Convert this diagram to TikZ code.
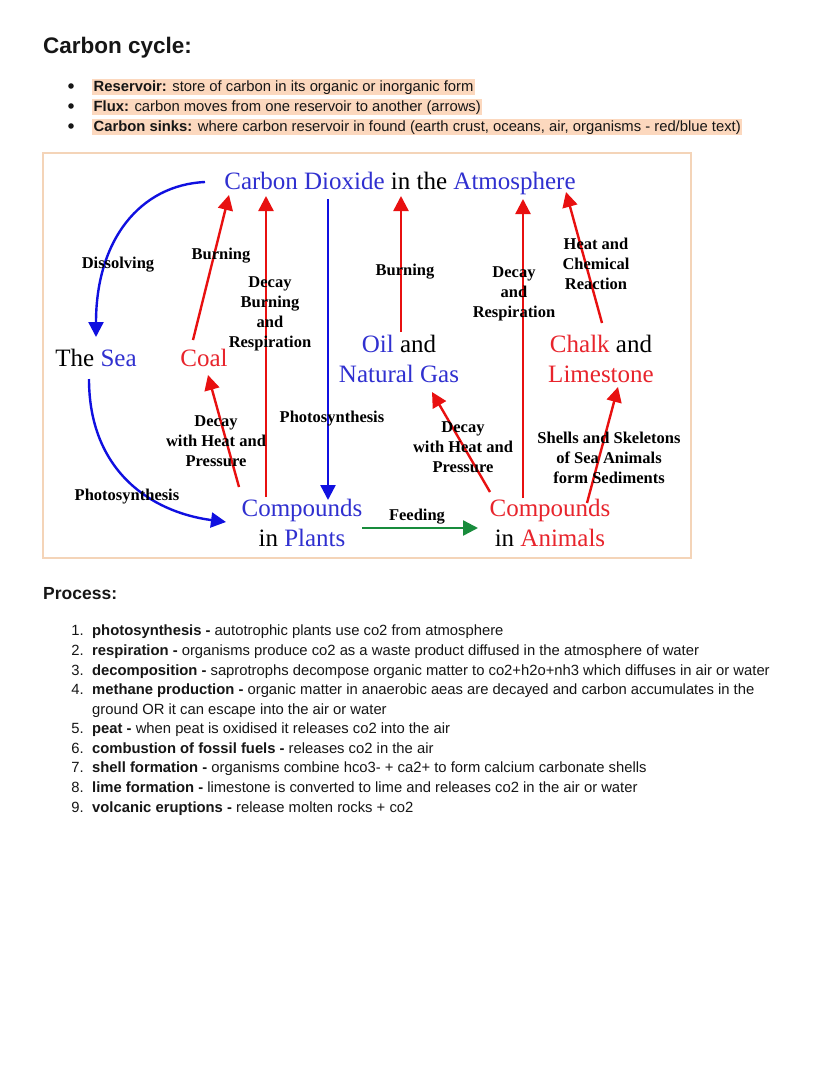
\documentclass[tikz,border=0pt]{standalone}
\usepackage{fontspec}
\setmainfont{Liberation Serif}
\newfontfamily\docsans{Liberation Sans}
\usetikzlibrary{arrows.meta,calc}
\definecolor{cycBlue}{RGB}{48,48,208}
\definecolor{cycRed}{RGB}{232,36,44}
\definecolor{arrBlue}{RGB}{16,16,224}
\definecolor{arrRed}{RGB}{232,16,16}
\definecolor{arrGreen}{RGB}{24,140,60}
\definecolor{hlPeach}{RGB}{252,216,190}
\definecolor{frameTan}{RGB}{244,212,184}
\definecolor{docInk}{RGB}{22,22,22}
\tikzset{
  doctitle/.style={font=\docsans\bfseries\fontsize{22.5}{27}\selectfont,text=docInk,inner sep=0pt,anchor=base west},
  dochead/.style={font=\docsans\bfseries\fontsize{17.5}{21}\selectfont,text=docInk,inner sep=0pt,anchor=base west},
  docbody/.style={font=\docsans\fontsize{14.8}{17.5}\selectfont,text=docInk,inner sep=0pt,anchor=base west},
  docnum/.style={font=\docsans\fontsize{14.8}{17.5}\selectfont,text=docInk,inner sep=0pt,anchor=base east},
  docdot/.style={circle,fill=docInk,inner sep=0pt,minimum size=5.6pt},
  dochl/.style={fill=hlPeach,inner xsep=1.5pt,inner ysep=0.5pt,text height=11.5pt,text depth=3.5pt},
  cycpool/.style={font=\fontsize{25}{30}\selectfont,align=center,inner sep=0pt,anchor=base},
  cyclabel/.style={font=\bfseries\fontsize{16.5}{20}\selectfont,align=center,inner sep=0pt,text=black},
  flowred/.style={-{Triangle[length=15pt,width=15pt]},draw=arrRed,line width=2.4pt},
  flowblue/.style={-{Triangle[length=15pt,width=15pt]},draw=arrBlue,line width=2.4pt},
  flowgreen/.style={-{Triangle[length=15pt,width=15pt]},draw=arrGreen,line width=2.4pt},
}
\newcommand{\bl}[1]{\textcolor{cycBlue}{#1}}
\newcommand{\rd}[1]{\textcolor{cycRed}{#1}}

\begin{document}
\begin{tikzpicture}[x=1pt,y=-1pt]
\useasboundingbox[fill=white] (0,0) rectangle (828,1071);

% Heading and definitions
\node[doctitle] (title) at (43,53) {Carbon cycle:};
\node[docdot] (dotA) at (71,86) {};
\node[docbody,dochl] (defA) at (92,91) {\textbf{Reservoir:} store of carbon in its organic or inorganic form};
\node[docdot] (dotB) at (71,106) {};
\node[docbody,dochl] (defB) at (92,111) {\textbf{Flux:} carbon moves from one reservoir to another (arrows)};
\node[docdot] (dotC) at (71,126) {};
\node[docbody,dochl] (defC) at (92,131) {\textbf{Carbon sinks:} where carbon reservoir in found (earth crust, oceans, air, organisms - red/blue text)};

% Diagram frame
\draw[draw=frameTan,line width=2.5pt,fill=white] (43,153) rectangle (691,558);

% Reservoirs (base = last line)
\node[cycpool] (co2) at (400,189) {\bl{Carbon Dioxide} in the \bl{Atmosphere}};
\node[cycpool] (sea) at (96,366) {The \bl{Sea}};
\node[cycpool] (coal) at (204,366) {\rd{Coal}};
\node[cycpool] (oil) at (399,382) {\bl{Oil} and\\\bl{Natural Gas}};
\node[cycpool] (chalk) at (601,382) {\rd{Chalk} and\\\rd{Limestone}};
\node[cycpool] (plants) at (302,546) {\bl{Compounds}\\in \bl{Plants}};
\node[cycpool] (animals) at (550,546) {\rd{Compounds}\\in \rd{Animals}};

% Fluxes
\draw[flowblue] ($(co2.base)+(-195,-7)$) .. controls (140,185) and (96,240) .. ($(sea.base)+(0,-29)$);
\draw[flowred] ($(coal.base)+(-11,-26)$) -- ($(co2.base)+(-171,6)$);
\draw[flowred] ($(plants.base)+(-36,-49)$) -- ($(co2.base)+(-134,7)$);
\draw[flowblue] ($(co2.base)+(-72,10)$) -- ($(plants.base)+(26,-46)$);
\draw[flowred] ($(oil.base)+(2,-50)$) -- ($(co2.base)+(1,7)$);
\draw[flowred] ($(animals.base)+(-27,-48)$) -- ($(co2.base)+(123,10)$);
\draw[flowred] ($(chalk.base)+(1,-59)$) -- ($(co2.base)+(166,3)$);
\draw[flowred] ($(plants.base)+(-63,-59)$) -- ($(coal.base)+(4,9)$);
\draw[flowblue] ($(sea.base)+(-7,13)$) .. controls (89,470) and (150,512) .. ($(plants.base)+(-76,-24)$);
\draw[flowgreen] ($(plants.base)+(60,-18)$) -- ($(animals.base)+(-72,-18)$);
\draw[flowred] ($(animals.base)+(-60,-54)$) -- ($(oil.base)+(33,10)$);
\draw[flowred] ($(animals.base)+(37,-43)$) -- ($(chalk.base)+(17,5)$);

% Flux labels
\node[cyclabel] (lDissolve) at (118,265) {Dissolving};
\node[cyclabel] (lBurnCoal) at (221,256) {Burning};
\node[cyclabel] (lDecayPlants) at (270,314) {Decay\\Burning\\and\\Respiration};
\node[cyclabel] (lBurnOil) at (405,272) {Burning};
\node[cyclabel] (lDecayAnimals) at (514,294) {Decay\\and\\Respiration};
\node[cyclabel] (lHeat) at (596,264) {Heat and\\Chemical\\Reaction};
\node[cyclabel] (lCoalForm) at (216,441) {Decay\\with Heat and\\Pressure};
\node[cyclabel] (lPhotoAir) at (332,419) {Photosynthesis};
\node[cyclabel] (lPhotoSea) at (127,497) {Photosynthesis};
\node[cyclabel] (lFeeding) at (417,517) {Feeding};
\node[cyclabel] (lOilForm) at (463,447) {Decay\\with Heat and\\Pressure};
\node[cyclabel] (lShells) at (609,458) {Shells and Skeletons\\of Sea Animals\\form Sediments};

% Process list
\node[dochead] (procHead) at (43,599) {Process:};
\node[docnum] (n1) at (84,635) {1.};
\node[docbody] (p1) at (92,635) {\textbf{photosynthesis -} autotrophic plants use co2 from atmosphere};
\node[docnum] (n2) at (84,655) {2.};
\node[docbody] (p2) at (92,655) {\textbf{respiration -} organisms produce co2 as a waste product diffused in the atmosphere of water};
\node[docnum] (n3) at (84,675) {3.};
\node[docbody] (p3) at (92,675) {\textbf{decomposition -} saprotrophs decompose organic matter to co2+h2o+nh3 which diffuses in air or water};
\node[docnum] (n4) at (84,694) {4.};
\node[docbody] (p4) at (92,694) {\textbf{methane production -} organic matter in anaerobic aeas are decayed and carbon accumulates in the};
\node[docbody] (p4b) at (92,714) {ground OR it can escape into the air or water};
\node[docnum] (n5) at (84,733) {5.};
\node[docbody] (p5) at (92,733) {\textbf{peat -} when peat is oxidised it releases co2 into the air};
\node[docnum] (n6) at (84,753) {6.};
\node[docbody] (p6) at (92,753) {\textbf{combustion of fossil fuels -} releases co2 in the air};
\node[docnum] (n7) at (84,772) {7.};
\node[docbody] (p7) at (92,772) {\textbf{shell formation -} organisms combine hco3- + ca2+ to form calcium carbonate shells};
\node[docnum] (n8) at (84,792) {8.};
\node[docbody] (p8) at (92,792) {\textbf{lime formation -} limestone is converted to lime and releases co2 in the air or water};
\node[docnum] (n9) at (84,812) {9.};
\node[docbody] (p9) at (92,812) {\textbf{volcanic eruptions -} release molten rocks + co2};
\end{tikzpicture}
\end{document}
